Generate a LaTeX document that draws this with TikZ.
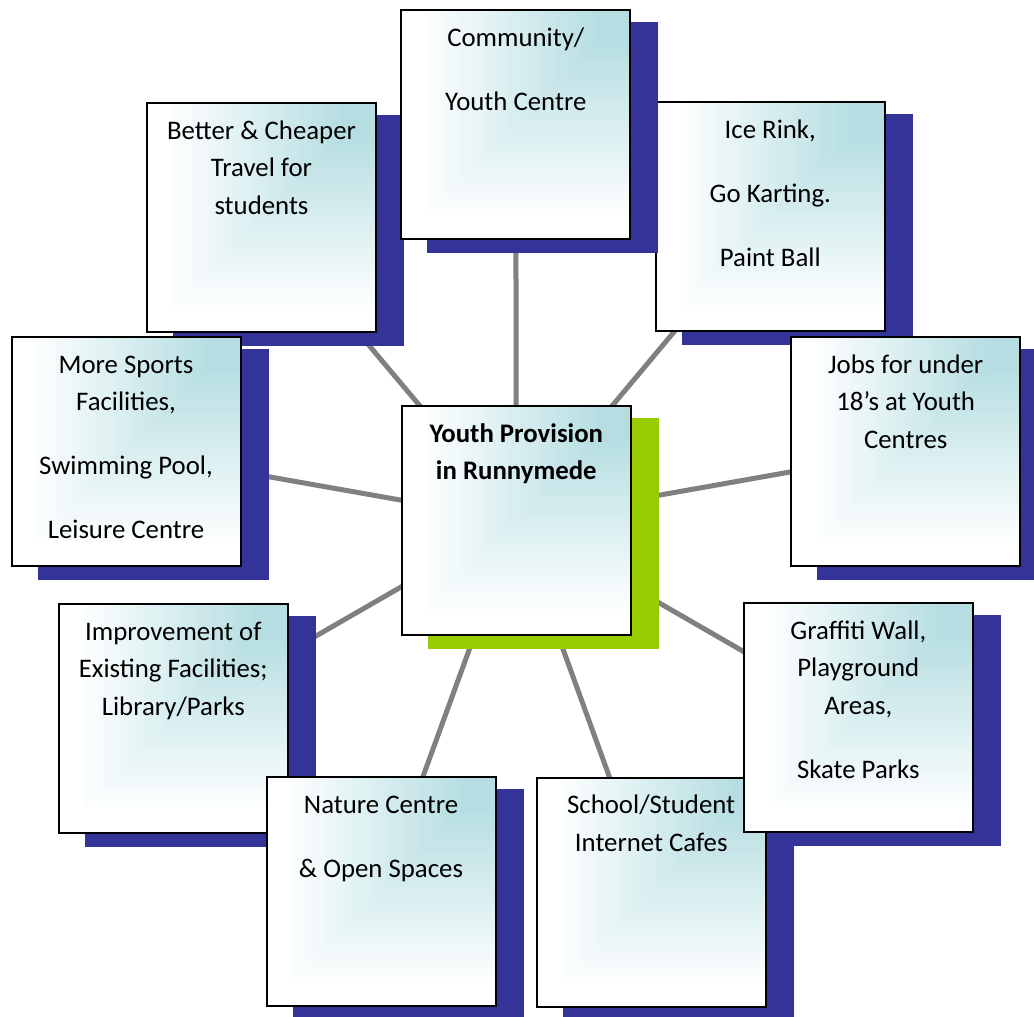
\documentclass[tikz,border=0pt]{standalone}
\usepackage{fontspec}
\setmainfont{Carlito}
\usetikzlibrary{calc}
\definecolor{tealc}{RGB}{182,222,226}
\definecolor{shadowblue}{RGB}{51,51,153}
\definecolor{shadowgreen}{RGB}{153,204,0}
\definecolor{conngray}{RGB}{128,128,128}
\pgfdeclarelayer{bg}
\pgfsetlayers{bg,main}
\tikzset{
  boxshape/.style={rectangle, minimum width=229pt, minimum height=229pt, inner sep=0pt, outer sep=0pt},
  shadowbox/.style={rectangle, minimum width=231pt, minimum height=231pt, inner sep=0pt, outer sep=0pt, draw=none},
  boxline/.style={draw=black, line width=2pt},
  boxtext/.style={font=\fontsize{26.8}{37.5}\selectfont, align=center, inner sep=0pt, anchor=north},
  boldtext/.style={font=\fontsize{26.8}{37.5}\selectfont\bfseries},
  conn/.style={draw=conngray, line width=5pt},
}
\newcommand\ideabox[5]{%
  \node[shadowbox, fill=#3] (#1-shadow) at ($(#2)+(27,13)$) {};
  \node[boxshape] (#1) at (#2) {};
  \foreach \i in {0,...,45}{%
    \pgfmathsetmacro\vv{\i/46}%
    \pgfmathsetmacro\pp{max(0,min(100,100*(\vv-0.08)/0.77))}%
    \fill[tealc!\pp!white] ($(#1.south west)!\vv!(#1.north east)$) rectangle (#1.north east);
  }
  \draw[boxline] (#1.south west) rectangle (#1.north east);
  \node[boxtext, #5] (#1-text) at ($(#1.north)+(0,9.75)$) {\strut #4};
}
\begin{document}
\begin{tikzpicture}[x=1pt, y=-1pt]
\useasboundingbox (0,0) rectangle (1034,1017);
\ideabox{better}{261.5,217.5}{shadowblue}{Better \& Cheaper\\Travel for\\students}{}
\ideabox{ice}{770.3,216.7}{shadowblue}{Ice Rink,\\[26.5pt]Go Karting.\\[26.5pt]Paint Ball}{}
\ideabox{comm}{515.8,124.7}{shadowblue}{Community/\\[26.5pt]Youth Centre}{}
\ideabox{sports}{126,451.5}{shadowblue}{More Sports\\Facilities,\\[26.5pt]Swimming Pool,\\[26.5pt]Leisure Centre}{}
\ideabox{jobs}{905.7,451.5}{shadowblue}{Jobs for under\\18’s at Youth\\Centres}{}
\ideabox{improve}{173.3,718.3}{shadowblue}{Improvement of\\Existing Facilities;\\Library/Parks}{}
\ideabox{nature}{381,891.7}{shadowblue}{Nature Centre\\[26.5pt]\& Open Spaces}{}
\ideabox{school}{651.2,892}{shadowblue}{School/Student\\Internet Cafes}{}
\ideabox{graffiti}{858.3,717.7}{shadowblue}{Graffiti Wall,\\Playground\\Areas,\\[26.5pt]Skate Parks}{}
\ideabox{center}{516.3,520.5}{shadowgreen}{Youth Provision\\in Runnymede}{boldtext}
\begin{pgfonlayer}{bg}
\foreach \t in {comm,better,ice,sports,jobs,improve,graffiti,nature,school}
  \draw[conn] (center.center) -- (\t.center);
\end{pgfonlayer}
\end{tikzpicture}
\end{document}
